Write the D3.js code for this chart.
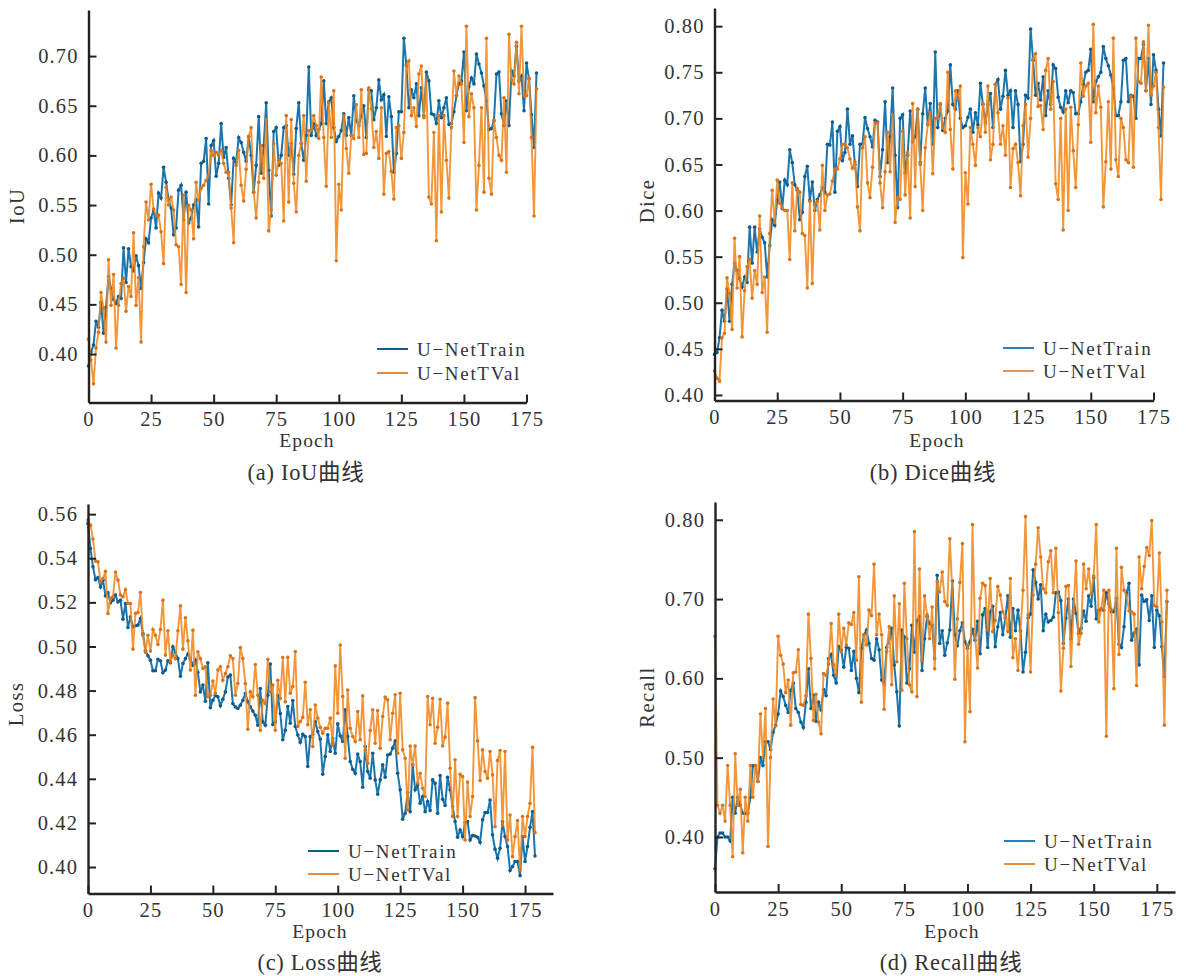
<!DOCTYPE html>
<html>
<head>
<meta charset="utf-8">
<script src="https://cdn.jsdelivr.net/npm/d3@7"></script>
<style>
  body { margin: 0; background: #fff; }
  text { font-family: "Liberation Serif", "Noto Sans CJK SC", serif; fill: #333; }
</style>
</head>
<body>
<div id="chart"></div>
<script>
// values, epoch 0..179
const iouTrain = [
  .388,.402,.409,.433,.427,.452,.421,.447,.478,.466,
  .455,.451,.458,.456,.507,.472,.506,.488,.484,.499,
  .489,.466,.492,.516,.512,.537,.545,.527,.562,.557,
  .588,.573,.555,.547,.52,.527,.565,.57,.535,.563,
  .532,.537,.55,.555,.528,.592,.594,.617,.551,.61,
  .615,.579,.592,.632,.598,.608,.577,.55,.597,.593,
  .618,.613,.603,.594,.619,.6,.563,.59,.639,.582,
  .61,.653,.585,.539,.624,.628,.59,.6,.628,.63,
  .6,.612,.581,.627,.653,.612,.595,.62,.689,.62,
  .632,.62,.626,.632,.675,.632,.654,.658,.628,.614,
  .619,.625,.642,.62,.638,.62,.66,.635,.63,.64,
  .65,.618,.666,.665,.636,.648,.676,.656,.661,.619,
  .659,.639,.583,.602,.644,.644,.718,.691,.648,.666,
  .658,.672,.64,.668,.64,.684,.675,.642,.641,.632,
  .655,.638,.648,.658,.631,.632,.644,.66,.672,.675,
  .704,.645,.669,.678,.672,.702,.692,.683,.67,.655,
  .626,.627,.635,.682,.684,.642,.63,.655,.63,.685,
  .68,.71,.675,.68,.645,.693,.677,.641,.608,.683];
const iouVal = [
  .415,.394,.37,.406,.422,.462,.446,.412,.495,.449,
  .48,.406,.449,.471,.476,.443,.468,.458,.522,.449,
  .477,.412,.508,.553,.535,.571,.546,.54,.54,.523,
  .491,.568,.55,.558,.545,.51,.508,.47,.56,.462,
  .55,.545,.516,.573,.555,.567,.57,.575,.58,.605,
  .6,.603,.6,.605,.592,.583,.583,.547,.512,.59,
  .605,.57,.554,.586,.619,.628,.563,.537,.573,.61,
  .577,.636,.524,.545,.612,.58,.595,.592,.534,.64,
  .553,.636,.572,.543,.6,.612,.64,.574,.625,.625,
  .64,.63,.617,.679,.618,.569,.653,.618,.665,.494,
  .571,.545,.64,.607,.582,.62,.617,.651,.618,.666,
  .601,.602,.668,.647,.608,.624,.597,.648,.561,.602,
  .604,.584,.556,.628,.63,.597,.623,.69,.695,.64,
  .648,.629,.682,.69,.638,.677,.558,.551,.623,.514,
  .64,.543,.64,.595,.557,.628,.685,.66,.68,.672,
  .613,.73,.639,.662,.648,.545,.59,.648,.563,.718,
  .577,.561,.635,.618,.6,.595,.658,.583,.722,.676,
  .672,.714,.662,.73,.66,.66,.678,.618,.539,.667];
const diceTrain = [
  .444,.446,.462,.492,.48,.515,.48,.52,.543,.535,
  .526,.517,.528,.522,.582,.543,.582,.555,.58,.571,
  .565,.528,.562,.59,.584,.611,.631,.602,.633,.628,
  .666,.652,.628,.622,.59,.598,.637,.648,.611,.631,
  .6,.612,.617,.625,.62,.672,.671,.696,.62,.686,
  .691,.654,.663,.71,.672,.681,.65,.626,.672,.672,
  .701,.689,.68,.669,.698,.696,.637,.666,.718,.652,
  .68,.733,.66,.603,.7,.704,.641,.66,.708,.675,
  .68,.71,.652,.705,.733,.693,.716,.672,.772,.69,
  .715,.687,.7,.708,.758,.715,.71,.73,.7,.69,
  .692,.701,.71,.685,.706,.693,.738,.715,.695,.715,
  .727,.69,.737,.742,.71,.724,.752,.725,.73,.69,
  .73,.715,.653,.672,.725,.722,.797,.763,.725,.738,
  .72,.745,.703,.73,.715,.758,.754,.723,.712,.707,
  .73,.717,.73,.728,.705,.705,.718,.737,.75,.752,
  .775,.718,.74,.745,.75,.778,.765,.757,.747,.733,
  .703,.703,.718,.763,.765,.718,.725,.724,.7,.765,
  .765,.78,.73,.765,.715,.769,.752,.71,.681,.76];
const diceVal = [
  .426,.418,.415,.462,.467,.527,.51,.471,.57,.516,
  .55,.463,.513,.539,.547,.505,.535,.52,.594,.511,
  .528,.468,.575,.622,.587,.633,.608,.603,.6,.6,
  .547,.63,.578,.624,.62,.575,.573,.516,.61,.521,
  .607,.61,.579,.649,.6,.617,.618,.632,.645,.645,
  .656,.672,.672,.668,.656,.646,.653,.604,.578,.668,
  .68,.63,.614,.647,.695,.695,.63,.603,.642,.685,
  .642,.704,.587,.614,.612,.686,.617,.663,.592,.716,
  .626,.71,.65,.6,.668,.693,.706,.64,.7,.7,
  .716,.69,.685,.75,.688,.645,.73,.722,.735,.549,
  .641,.607,.69,.672,.649,.69,.68,.716,.685,.735,
  .655,.672,.737,.706,.672,.692,.66,.722,.625,.667,
  .672,.652,.616,.692,.715,.658,.7,.765,.77,.713,
  .714,.688,.752,.765,.71,.74,.629,.612,.7,.579,
  .71,.6,.712,.665,.625,.693,.76,.724,.735,.738,
  .674,.802,.706,.735,.712,.604,.653,.718,.645,.787,
  .655,.637,.7,.69,.655,.652,.724,.647,.787,.74,
  .738,.783,.73,.801,.725,.735,.75,.69,.612,.734];
const lossTrain = [
  .5558,.5444,.5361,.5303,.5313,.527,.53,.523,.5243,.5198,
  .521,.5233,.5202,.521,.5124,.5195,.5086,.5134,.5089,.5094,
  .5097,.5127,.5059,.4983,.4958,.4938,.489,.489,.4942,.4935,
  .4881,.4893,.4935,.4926,.4998,.4973,.4945,.4865,.4923,.4945,
  .4966,.4945,.4915,.4938,.4882,.4794,.4825,.4752,.4926,.4722,
  .4756,.4779,.4772,.4731,.4761,.4794,.4862,.487,.4741,.4726,
  .4719,.4734,.4756,.4787,.4749,.4726,.4707,.4688,.4643,.4809,
  .4658,.4643,.4779,.492,.4646,.4658,.4779,.4696,.4577,.462,
  .4728,.4652,.4755,.4637,.4599,.4566,.4602,.4592,.4456,.4592,
  .4602,.466,.4614,.458,.4421,.4501,.4599,.4524,.4584,.4516,
  .4649,.4595,.4569,.4713,.4592,.4478,.4443,.4425,.4512,.4478,
  .4362,.4546,.4433,.4403,.4516,.4395,.433,.4395,.4463,.4407,
  .4508,.4512,.4539,.4572,.4425,.435,.4217,.4244,.4338,.4251,
  .4463,.435,.4372,.4289,.432,.4251,.4297,.4256,.4395,.438,
  .4244,.4415,.4307,.4279,.4407,.435,.4274,.4206,.4135,.4168,
  .4138,.4202,.4206,.4123,.4143,.4141,.4135,.4112,.4214,.4247,
  .4247,.4304,.4146,.4081,.404,.4085,.4206,.4138,.4093,.3984,
  .4002,.4025,.4025,.3961,.4138,.4025,.4093,.418,.4251,.405];
const lossVal = [
  .5573,.555,.5487,.5387,.5384,.5293,.5308,.5341,.515,.5218,
  .5225,.5338,.5301,.5233,.5225,.5257,.5195,.5195,.4988,.515,
  .5154,.5245,.5051,.4973,.5051,.4979,.5077,.5051,.5009,.5077,
  .521,.4961,.5071,.493,.4961,.4945,.5071,.5184,.4988,.513,
  .5026,.4893,.5074,.4779,.4976,.4945,.49,.4908,.4772,.4779,
  .4843,.4787,.4893,.4908,.4847,.4877,.4908,.4958,.4945,.4779,
  .4832,.4995,.4945,.4832,.4625,.4794,.4772,.4918,.4779,.462,
  .4756,.4741,.4942,.4794,.4825,.462,.4847,.4764,.495,.4749,
  .4951,.4788,.4818,.4977,.4637,.466,.4679,.4838,.4645,.4713,
  .4546,.4735,.4675,.4634,.4607,.4629,.4629,.4675,.4554,.4912,
  .4697,.5007,.4773,.4493,.4803,.4629,.4592,.4569,.4705,.4577,
  .4776,.4531,.4471,.4619,.4713,.4561,.471,.4539,.4682,.477,
  .4758,.4577,.4697,.4781,.4516,.4788,.4531,.4493,.4259,.4549,
  .4463,.4549,.438,.4425,.4357,.432,.4773,.4645,.4765,.4561,
  .4634,.4761,.4549,.4589,.4743,.4448,.4229,.4486,.4229,.4421,
  .441,.4123,.4385,.4229,.432,.4768,.4572,.4392,.4531,.4433,
  .4403,.4524,.4418,.4183,.4483,.4528,.4191,.4524,.4123,.4236,
  .4047,.4138,.4211,.3987,.4229,.4138,.4229,.4289,.4543,.4156];
const recallTrain = [
  .36,.40,.405,.405,.40,.40,.395,.45,.43,.45,
  .44,.43,.43,.43,.45,.49,.49,.47,.50,.49,
  .52,.52,.51,.532,.541,.555,.584,.577,.566,.557,
  .585,.594,.562,.557,.545,.538,.57,.612,.562,.579,
  .546,.57,.56,.586,.578,.625,.63,.604,.594,.64,
  .636,.614,.639,.638,.61,.634,.6,.582,.638,.655,
  .661,.644,.625,.623,.65,.636,.598,.593,.639,.65,
  .663,.617,.583,.54,.661,.652,.594,.612,.667,.633,
  .673,.678,.61,.65,.678,.669,.667,.625,.73,.644,
  .66,.629,.645,.661,.723,.655,.641,.66,.67,.646,
  .638,.646,.662,.648,.672,.631,.68,.688,.639,.684,
  .691,.64,.665,.683,.655,.676,.704,.652,.688,.66,
  .686,.66,.608,.633,.676,.681,.737,.721,.7,.718,
  .66,.681,.671,.673,.677,.708,.709,.698,.644,.676,
  .7,.65,.7,.682,.657,.663,.685,.672,.704,.691,
  .727,.675,.686,.687,.686,.708,.694,.684,.684,.701,
  .643,.639,.665,.707,.72,.648,.657,.662,.617,.705,
  .697,.699,.673,.704,.639,.686,.679,.64,.602,.697];
const recallVal = [
  .653,.44,.43,.44,.42,.49,.44,.375,.505,.44,
  .46,.38,.45,.42,.49,.45,.49,.47,.555,.50,
  .562,.388,.50,.574,.54,.653,.629,.618,.582,.598,
  .541,.607,.608,.636,.567,.566,.578,.681,.625,.547,
  .58,.545,.53,.606,.604,.618,.669,.617,.604,.681,
  .634,.663,.642,.67,.668,.683,.623,.728,.57,.655,
  .642,.686,.679,.744,.655,.681,.655,.561,.634,.665,
  .592,.704,.621,.694,.585,.72,.65,.592,.583,.785,
  .577,.738,.623,.704,.68,.65,.69,.612,.722,.709,
  .734,.697,.692,.776,.709,.599,.675,.721,.77,.52,
  .642,.558,.794,.655,.613,.701,.72,.717,.661,.726,
  .659,.673,.716,.705,.684,.676,.659,.726,.626,.65,
  .61,.659,.711,.804,.68,.608,.705,.744,.79,.753,
  .713,.708,.747,.761,.708,.764,.683,.584,.638,.716,
  .717,.615,.686,.748,.643,.657,.744,.713,.738,.707,
  .729,.794,.671,.688,.711,.527,.711,.686,.587,.764,
  .63,.74,.711,.705,.685,.684,.681,.591,.753,.713,
  .741,.765,.755,.799,.692,.69,.758,.671,.541,.711];

const epochTicks = [0, 25, 50, 75, 100, 125, 150, 175];
const iouTicks = [.40, .45, .50, .55, .60, .65, .70];
const diceTicks = [.40, .45, .50, .55, .60, .65, .70, .75, .80];
const lossTicks = [.40, .42, .44, .46, .48, .50, .52, .54, .56];
const recallTicks = [.40, .50, .60, .70, .80];
const seriesNames = ["U\u2212NetTrain", "U\u2212NetTVal"];

const width = 1187, height = 976;

const svg = d3.select("#chart").append("svg")
  .attr("width", width)
  .attr("height", height)
  .style("display", "block");

// the reference is a soft scan, so the marks get a very light blur
svg.append("defs").append("filter").attr("id", "soft")
  .append("feGaussianBlur").attr("stdDeviation", 0.35);

function drawPanel(p) {
  const x = d3.scaleLinear().domain([0, p.xMax]).range([p.left, p.right]);
  const y = d3.scaleLinear().domain(p.yDomain).range([p.bottom, p.top]);
  const g = svg.append("g");

  const line = d3.line().x((d, i) => x(i)).y(d => y(d));

  [[p.train, "#1a76ad", "#0f5c8c", 2, 1], [p.val, "#f0871f", "#d8741c", 1.9, .88]].forEach(s => {
    const sg = g.append("g").attr("filter", "url(#soft)");
    sg.append("path")
      .datum(s[0])
      .attr("d", line)
      .attr("fill", "none")
      .attr("stroke", s[1])
      .attr("stroke-width", s[3])
      .attr("stroke-opacity", s[4]);
    sg.selectAll("circle")
      .data(s[0])
      .enter()
      .append("circle")
      .attr("cx", (d, i) => x(i))
      .attr("cy", d => y(d))
      .attr("r", 1.8)
      .attr("fill", s[2]);
  });

  const xAxis = g.append("g")
    .attr("transform", `translate(0,${p.bottom})`)
    .call(d3.axisBottom(x).tickValues(epochTicks).tickSizeInner(-8).tickSizeOuter(0).tickPadding(9));
  const yAxis = g.append("g")
    .attr("transform", `translate(${p.left},0)`)
    .call(d3.axisLeft(y).tickValues(p.ticks).tickFormat(d3.format(".2f")).tickSizeInner(-8).tickSizeOuter(0).tickPadding(10));

  [xAxis, yAxis].forEach(a => {
    a.attr("font-family", null).attr("font-size", null);
    a.selectAll("text").style("font-size", "20.5px").style("letter-spacing", "1.1px").style("fill", "#333");
    a.selectAll("line").attr("stroke", "#222").attr("stroke-width", 2);
    a.select(".domain").attr("stroke", "#222").attr("stroke-width", 2.4);
  });

  // y axis label
  g.append("text")
    .attr("transform", `translate(${p.yLabelX},${p.yLabelY}) rotate(-90)`)
    .attr("text-anchor", "middle")
    .style("font-size", "20.5px")
    .style("letter-spacing", "1.5px")
    .text(p.yLabel);

  g.append("text")
    .attr("x", p.epochX)
    .attr("y", p.epochY)
    .attr("text-anchor", "middle")
    .style("font-size", "19.5px")
    .style("letter-spacing", "1.1px")
    .text("Epoch");

  g.append("text")
    .attr("x", p.capX)
    .attr("y", p.capY)
    .attr("text-anchor", "middle")
    .style("font-size", "22.5px")
    .style("letter-spacing", "0.7px")
    .text(p.caption);

  // legend
  seriesNames.forEach((name, i) => {
    const ly = p.legendY[i];
    g.append("line")
      .attr("x1", p.legendX).attr("x2", p.legendX + 31)
      .attr("y1", ly).attr("y2", ly)
      .attr("stroke", p.legendColors[i])
      .attr("stroke-width", 2);
    g.append("text")
      .attr("x", p.legendX + 40)
      .attr("y", ly + 7)
      .style("font-size", "19px")
      .style("letter-spacing", "1.7px")
      .text(name);
  });
}

drawPanel({
  train: iouTrain, val: iouVal, ticks: iouTicks, yLabel: "IoU", caption: "(a) IoU曲线",
  left: 88.5, right: 526.5, top: 10, bottom: 402.5, xMax: 175, yDomain: [.3512, .7464],
  yLabelX: 24, yLabelY: 206, epochX: 307, epochY: 447, capX: 306, capY: 480,
  legendX: 377, legendY: [349, 373], legendColors: ["#0b5f80", "#e88a35"]
});
drawPanel({
  train: diceTrain, val: diceVal, ticks: diceTicks, yLabel: "Dice", caption: "(b) Dice曲线",
  left: 714.5, right: 1153.5, top: 8, bottom: 400.5, xMax: 175, yDomain: [.394, .8197],
  yLabelX: 654, yLabelY: 201, epochX: 937, epochY: 447, capX: 933, capY: 480,
  legendX: 1003, legendY: [348, 371], legendColors: ["#2a80b5", "#d9955a"]
});
drawPanel({
  train: lossTrain, val: lossVal, ticks: lossTicks, yLabel: "Loss", caption: "(c) Loss曲线",
  left: 88, right: 553, top: 504, bottom: 893.5, xMax: 186.2, yDomain: [.388, .5646],
  yLabelX: 23, yLabelY: 704, epochX: 320, epochY: 938, capX: 320, capY: 970,
  legendX: 308, legendY: [851, 874], legendColors: ["#0b5f80", "#e88a35"]
});
drawPanel({
  train: recallTrain, val: recallVal, ticks: recallTicks, yLabel: "Recall", caption: "(d) Recall曲线",
  left: 715, right: 1175, top: 502, bottom: 892, xMax: 182.2, yDomain: [.3306, .8224],
  yLabelX: 654, yLabelY: 697, epochX: 952, epochY: 938, capX: 951, capY: 970,
  legendX: 1004, legendY: [841, 864], legendColors: ["#2a80b5", "#e0913f"]
});
</script>
</body>
</html>
